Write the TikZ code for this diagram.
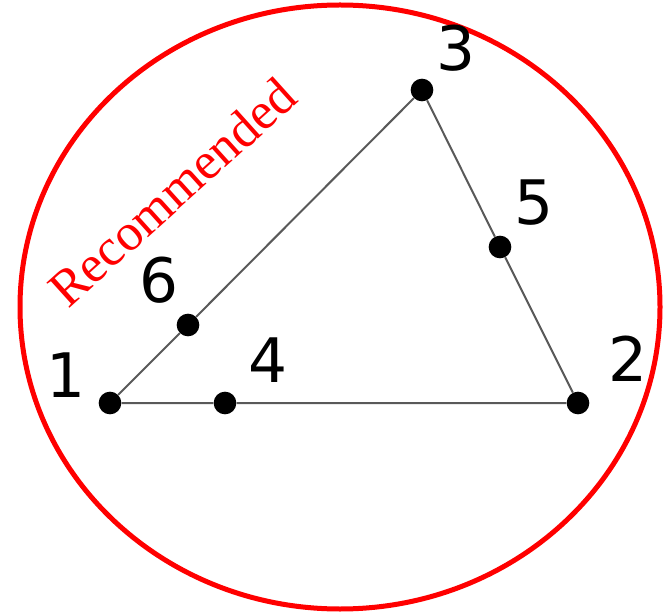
\documentclass[tikz,border=0pt]{standalone}
\usepackage{fontspec}
\setmainfont{DejaVu Sans}
\newfontfamily\recfont{Liberation Serif}
\begin{document}
\begin{tikzpicture}[x=0.75pt,y=-0.75pt,
  dot/.style={circle,fill=black,inner sep=0pt,minimum size=17pt},
  edge/.style={draw=black!65,line width=1.5pt},
  lbl/.style={inner sep=0pt,font=\fontsize{46}{50}\selectfont},
  rec/.style={text=red,inner sep=0pt,font=\recfont\fontsize{39}{42}\selectfont}]
\useasboundingbox (0,0) rectangle (667,616);
\draw[red,line width=3.75pt] (340,307) ellipse [x radius=240pt, y radius=226.5pt];
\node[dot] (p1) at (110,403) {};
\node[dot] (p4) at (225,403) {};
\node[dot] (p2) at (578,403) {};
\node[dot] (p3) at (422,90) {};
\node[dot] (p5) at (500,247) {};
\node[dot] (p6) at (188,325) {};
\draw[edge] (p1) -- (p4) -- (p2) -- (p5) -- (p3) -- (p6) -- (p1);
\node[lbl] (l1) at (66,375) {1};
\node[lbl] (l4) at (268,360) {4};
\node[lbl] (l6) at (159,280) {6};
\node[lbl] (l3) at (456,48) {3};
\node[lbl] (l5) at (534,203) {5};
\node[lbl] (l2) at (628,359) {2};
\node[rec,rotate=42] (rec) at (172,192) {Recommended};
\end{tikzpicture}
\end{document}
